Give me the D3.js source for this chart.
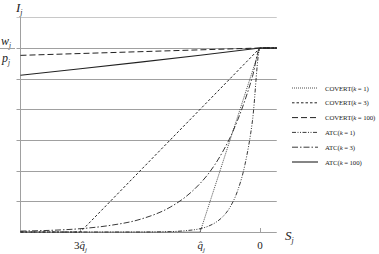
<!DOCTYPE html>
<html><head><meta charset="utf-8">
<script src="https://cdn.jsdelivr.net/npm/d3@7"></script>
<style>body{margin:0;background:#fff}svg{display:block;font-family:"Liberation Serif","Times New Roman",serif}</style>
</head><body><svg id="c" width="379" height="254"></svg>
<script>
// S in units of |q̂_j| (negative side), I in units of w_j/p_j
const sFine = [-4,-3.5,-3,-2.5,-2,-1.5,-1.25,-1,-0.875,-0.75,-0.625,-0.5,-0.375,-0.25,-0.125,0,0.28];
const atc1   = [0,0,0,0,0,0.002,0.007,0.018,0.030,0.050,0.082,0.135,0.223,0.368,0.607,1,1];
const atc3   = [0.005,0.009,0.018,0.036,0.069,0.135,0.189,0.264,0.311,0.368,0.435,0.513,0.607,0.717,0.846,1,1];
const sAtc100 = [-4,-3,-2,-1,0,0.28];
const atc100 = [0.852,0.887,0.923,0.961,1,1];
const sCov1 = [-4,-1,0,0.28];
const cov1  = [0,0,1,1];
const sCov3 = [-4,-3,0,0.28];
const cov3  = [0,0,1,1];
const sCov100 = [-4,0,0.28];
const cov100  = [0.96,1,1];
const legendLabels = ["COVERT(","COVERT(","COVERT(","ATC(","ATC(","ATC("];
const legendK = ["1","3","100","1","3","100"];
const gridVals = [1/6,2/6,3/6,4/6,5/6,1,7/6];

const svg = d3.select("#c");
const x = d3.scaleLinear().domain([-4,0]).range([20.5,260]);
const y = d3.scaleLinear().domain([0,1]).range([232,48]);

// grid
svg.append("g").selectAll("line").data(gridVals).join("line")
  .attr("x1",16.5).attr("x2",x(0.28)).attr("y1",d=>Math.round(y(d))+0.5).attr("y2",d=>Math.round(y(d))+0.5)
  .attr("stroke",(d,i)=>i===6?"#c8c8c8":"#a0a0a0").attr("stroke-width",1);
// x axis
svg.append("line").attr("x1",20.5).attr("x2",x(0.28)).attr("y1",232.5).attr("y2",232.5).attr("stroke","#a0a0a0");
// y axis
svg.append("line").attr("x1",20.5).attr("x2",20.5).attr("y1",Math.round(y(7/6))).attr("y2",232.5).attr("stroke","#a0a0a0");
// x ticks
svg.append("g").selectAll("line").data([-3,-1,0]).join("line")
  .attr("x1",d=>Math.round(x(d))+0.5).attr("x2",d=>Math.round(x(d))+0.5).attr("y1",228).attr("y2",232)
  .attr("stroke","#a0a0a0");

const series = [
  {s:sCov1,v:cov1,dash:"1,1",w:0.8,smooth:false},
  {s:sCov3,v:cov3,dash:"2.5,2",w:1,smooth:false},
  {s:sCov100,v:cov100,dash:"6,3",w:1,smooth:false},
  {s:sFine,v:atc1,dash:"4,1.5,1,1.5,1,1.5",w:0.9,smooth:true},
  {s:sFine,v:atc3,dash:"6,2,1.5,2",w:0.9,smooth:true},
  {s:sAtc100,v:atc100,dash:null,w:1.1,smooth:false}
];
const lineS = d3.line().x(d=>x(d[0])).y(d=>y(d[1])).curve(d3.curveMonotoneX);
const lineL = d3.line().x(d=>x(d[0])).y(d=>y(d[1])).curve(d3.curveLinear);
series.forEach(se=>{
  const pts = se.s.map((s,i)=>[s,se.v[i]]);
  svg.append("path").attr("d",(se.smooth?lineS:lineL)(pts))
    .attr("fill","none").attr("stroke","#222").attr("stroke-width",se.w)
    .attr("stroke-dasharray",se.dash);
});

// legend
series.forEach((se,i)=>{
  const ly = 88 + i*14.8;
  svg.append("line").attr("x1",292).attr("x2",318).attr("y1",ly).attr("y2",ly)
    .attr("stroke","#222").attr("stroke-width",se.w).attr("stroke-dasharray",se.dash);
  const t = svg.append("text").attr("x",325).attr("y",ly+2.5).attr("font-size",6.8).attr("letter-spacing",-0.1).attr("fill","#222");
  t.append("tspan").text(legendLabels[i]);
  t.append("tspan").attr("font-style","italic").text("k");
  t.append("tspan").text(" = "+legendK[i]+")");
});

// axis labels
const lab = (tx,ty,main,sub,size)=>{
  const t = svg.append("text").attr("x",tx).attr("y",ty).attr("font-size",size).attr("font-style","italic").attr("fill","#222");
  t.append("tspan").text(main);
  t.append("tspan").attr("font-size",size*0.6).attr("dy",size*0.25).text(sub);
  return t;
};
lab(16,12,"I","j",13);
lab(285,240,"S","j",13);
lab(1,45,"w","j",12);
lab(2,62,"p","j",12);
svg.append("line").attr("x1",0).attr("x2",15).attr("y1",48.5).attr("y2",48.5).attr("stroke","#a0a0a0");
// tick labels
const t3 = svg.append("text").attr("x",x(-3)).attr("y",249).attr("font-size",11).attr("text-anchor","middle").attr("fill","#222");
t3.append("tspan").text("3");
t3.append("tspan").attr("font-style","italic").text("q\u0302");
t3.append("tspan").attr("font-style","italic").attr("font-size",7).attr("dy",2.5).text("j");
const t1 = svg.append("text").attr("x",x(-1)+1).attr("y",249).attr("font-size",11).attr("text-anchor","middle").attr("fill","#222").attr("font-style","italic");
t1.append("tspan").text("q\u0302");
t1.append("tspan").attr("font-size",7).attr("dy",2.5).text("j");
svg.append("text").attr("x",x(0)).attr("y",249).attr("font-size",11).attr("text-anchor","middle").attr("fill","#222").text("0");
</script></body></html>
